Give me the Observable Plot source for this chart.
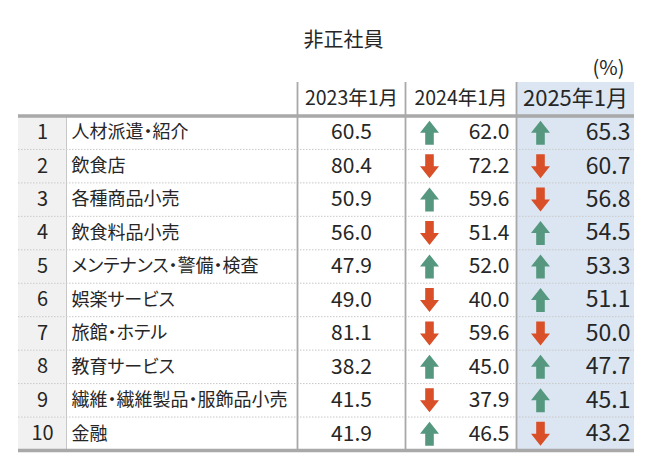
<!DOCTYPE html>
<html><head><meta charset="utf-8">
<script src="https://cdn.jsdelivr.net/npm/d3@7"></script>
<script src="https://cdn.jsdelivr.net/npm/@observablehq/plot@0.6"></script>
<style>
body{margin:0;background:#fff;}
svg{font-family:"Noto Sans CJK JP","Noto Sans",sans-serif;}
svg text{font-feature-settings:"palt";}
</style></head><body><div id="chart"></div>
<script>
// ---- data ----
const title = "非正社員";
const unitLabel = "(%)";
const periods = ["2023年1月", "2024年1月", "2025年1月"];
const ranks = [1, 2, 3, 4, 5, 6, 7, 8, 9, 10];
const industries = ["人材派遣・紹介", "飲食店", "各種商品小売", "飲食料品小売", "メンテナンス・警備・検査",
  "娯楽サービス", "旅館・ホテル", "教育サービス", "繊維・繊維製品・服飾品小売", "金融"];
const v2023 = [60.5, 80.4, 50.9, 56.0, 47.9, 49.0, 81.1, 38.2, 41.5, 41.9];
const v2024 = [62.0, 72.2, 59.6, 51.4, 52.0, 40.0, 59.6, 45.0, 37.9, 46.5];
const v2025 = [65.3, 60.7, 56.8, 54.5, 53.3, 51.1, 50.0, 47.7, 45.1, 43.2];

// ---- layout (table geometry) ----
const W = 666, H = 470;
const edge = {left: 18, rank: 66, name: 297, c1: 405, c2: 516, right: 634};
const colCenter = [(edge.name + edge.c1) / 2, (edge.c1 + edge.c2) / 2, (edge.c2 + edge.right) / 2];
const upColor = "#55987f", downColor = "#d84f28";
const lineColor = "#a9a9a9";
const textColor = "#262626";

const rows = ranks.map((r, i) => ({
  rank: r, row: i + 1, name: industries[i], a: v2023[i], b: v2024[i], c: v2025[i],
  dirB: v2024[i] >= v2023[i] ? "up" : "down",
  dirC: v2025[i] >= v2024[i] ? "up" : "down"
}));
const nRows = rows.length;

// block-arrow symbol (fixed pixel size, independent of r)
function arrow(dir) {
  return {
    draw(ctx) {
      const h = 12, w = 9.5, sw = 4.3, headH = 12;
      const k = dir === "up" ? 1 : -1;
      const hb = -h + headH;
      ctx.moveTo(0, -h * k);
      ctx.lineTo(w, hb * k);
      ctx.lineTo(sw, hb * k);
      ctx.lineTo(sw, h * k);
      ctx.lineTo(-sw, h * k);
      ctx.lineTo(-sw, hb * k);
      ctx.lineTo(-w, hb * k);
      ctx.closePath();
    }
  };
}
const upArrow = arrow("up"), downArrow = arrow("down");

const plot = Plot.plot({
  width: W, height: H,
  marginTop: 0, marginBottom: 0, marginLeft: 0, marginRight: 0,
  x: {type: "linear", domain: [0, W], range: [0, W], axis: null},
  y: {type: "linear", domain: [0, nRows + 1], range: [82, 450], axis: null},
  style: {fontFamily: "'Noto Sans CJK JP', sans-serif", color: textColor},
  marks: [
    // backgrounds
    Plot.rect([0], {x1: edge.c2, x2: edge.right, y1: 0, y2: nRows + 1, fill: "#dce6f2"}),
    Plot.rect(rows, {x1: edge.left, x2: edge.rank, y1: "row", y2: d => d.row + 1, fill: "#f1f1f1"}),
    // dotted row separators
    Plot.ruleY(rows.slice(1), {y: "row", x1: edge.left, x2: edge.right, stroke: "#c8c8c8", strokeWidth: 1, strokeDasharray: "1.5,1.5"}),
    // vertical lines
    Plot.ruleX([edge.name, edge.c1, edge.c2], {x: d => d, y1: 0, y2: nRows + 1, stroke: lineColor, strokeWidth: 1.8}),
    Plot.ruleX([edge.rank], {x: d => d, y1: 1, y2: nRows + 1, stroke: "#c8c8c8", strokeWidth: 1}),
    // thick header / bottom lines
    Plot.ruleY([1, nRows + 1], {y: d => d, x1: edge.left, x2: edge.right, stroke: lineColor, strokeWidth: 3.5}),
    // title & unit
    Plot.text([title], {frameAnchor: "top", lineAnchor: "middle", dy: 40, dx: 10, fontSize: 20, fill: textColor}),
    Plot.text([unitLabel], {x: edge.right - 10, frameAnchor: "top", lineAnchor: "middle", dy: 68, textAnchor: "end", fontSize: 20, fill: textColor}),
    // header labels
    Plot.text(periods, {x: (d, i) => colCenter[i], y: 0.5, text: d => d, fontSize: (d, i) => i === 2 ? 22 : 19.5, fill: textColor}),
    // rank & name
    Plot.text(rows, {x: (edge.left + edge.rank) / 2, y: d => d.row + 0.5, text: d => String(d.rank), fontSize: 20, fill: textColor}),
    Plot.text(rows, {x: edge.rank + 5, y: d => d.row + 0.5, text: "name", textAnchor: "start", fontSize: 18, fill: textColor}),
    // values
    Plot.text(rows, {x: colCenter[0], y: d => d.row + 0.5, text: d => d.a.toFixed(1), fontSize: 21, fill: textColor}),
    Plot.text(rows, {x: edge.c2 - 7, y: d => d.row + 0.5, text: d => d.b.toFixed(1), textAnchor: "end", fontSize: 21, fill: textColor}),
    Plot.text(rows, {x: edge.right - 4, y: d => d.row + 0.5, text: d => d.c.toFixed(1), textAnchor: "end", fontSize: 23, fill: textColor}),
    // arrows
    Plot.dot(rows.filter(d => d.dirB === "up"), {x: edge.c1 + 24, y: d => d.row + 0.5, symbol: upArrow, fill: upColor, stroke: null}),
    Plot.dot(rows.filter(d => d.dirB === "down"), {x: edge.c1 + 24, y: d => d.row + 0.5, symbol: downArrow, fill: downColor, stroke: null}),
    Plot.dot(rows.filter(d => d.dirC === "up"), {x: edge.c2 + 24, y: d => d.row + 0.5, symbol: upArrow, fill: upColor, stroke: null}),
    Plot.dot(rows.filter(d => d.dirC === "down"), {x: edge.c2 + 24, y: d => d.row + 0.5, symbol: downArrow, fill: downColor, stroke: null})
  ]
});
document.getElementById("chart").append(plot);
</script>
</body></html>
